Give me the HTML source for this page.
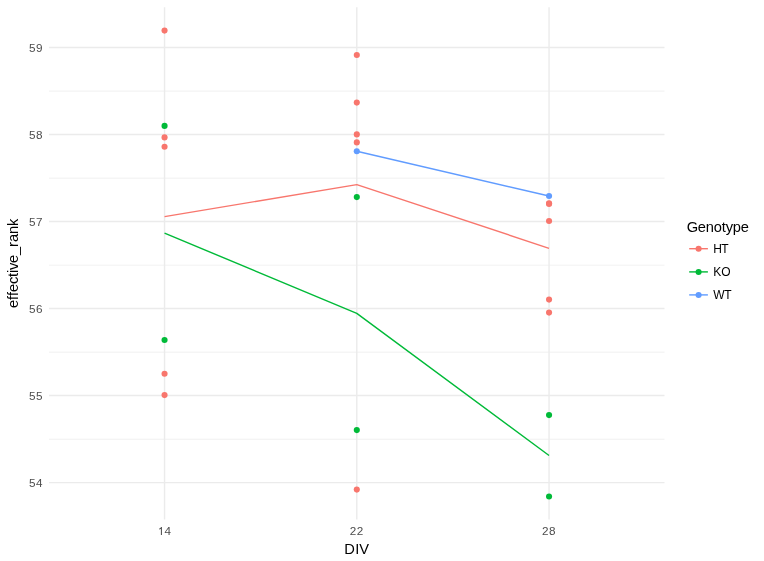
<!DOCTYPE html><html><head><meta charset="utf-8"><style>html,body{margin:0;padding:0;background:#fff;overflow:hidden;width:764px;height:561px;}svg{display:block;will-change:transform;}text{font-family:"Liberation Sans",sans-serif;}</style></head><body>
<svg width="764" height="561" viewBox="0 0 764 561">
<rect width="764" height="561" fill="#fff"/>
<line x1="49.0" x2="664.5" y1="91.12" y2="91.12" stroke="#EBEBEB" stroke-width="0.71"/>
<line x1="49.0" x2="664.5" y1="178.15" y2="178.15" stroke="#EBEBEB" stroke-width="0.71"/>
<line x1="49.0" x2="664.5" y1="265.17" y2="265.17" stroke="#EBEBEB" stroke-width="0.71"/>
<line x1="49.0" x2="664.5" y1="352.20" y2="352.20" stroke="#EBEBEB" stroke-width="0.71"/>
<line x1="49.0" x2="664.5" y1="439.23" y2="439.23" stroke="#EBEBEB" stroke-width="0.71"/>
<line x1="49.0" x2="664.5" y1="47.45" y2="47.45" stroke="#EBEBEB" stroke-width="1.42"/>
<line x1="49.0" x2="664.5" y1="134.48" y2="134.48" stroke="#EBEBEB" stroke-width="1.42"/>
<line x1="49.0" x2="664.5" y1="221.51" y2="221.51" stroke="#EBEBEB" stroke-width="1.42"/>
<line x1="49.0" x2="664.5" y1="308.54" y2="308.54" stroke="#EBEBEB" stroke-width="1.42"/>
<line x1="49.0" x2="664.5" y1="395.57" y2="395.57" stroke="#EBEBEB" stroke-width="1.42"/>
<line x1="49.0" x2="664.5" y1="482.60" y2="482.60" stroke="#EBEBEB" stroke-width="1.42"/>
<line x1="164.55" x2="164.55" y1="7.3" y2="519.4" stroke="#EBEBEB" stroke-width="1.42"/>
<line x1="356.8" x2="356.8" y1="7.3" y2="519.4" stroke="#EBEBEB" stroke-width="1.42"/>
<line x1="549.05" x2="549.05" y1="7.3" y2="519.4" stroke="#EBEBEB" stroke-width="1.42"/>
<polyline points="164.55,216.6 356.8,184.6 549.05,248.3" fill="none" stroke="#F8766D" stroke-width="1.42" stroke-linejoin="round"/>
<polyline points="164.55,233.1 356.8,313.4 549.05,455.5" fill="none" stroke="#00BA38" stroke-width="1.42" stroke-linejoin="round"/>
<polyline points="356.8,151.25 549.05,196.0" fill="none" stroke="#619CFF" stroke-width="1.42" stroke-linejoin="round"/>
<circle cx="164.55" cy="30.6" r="3.05" fill="#F8766D"/>
<circle cx="164.55" cy="125.9" r="3.05" fill="#00BA38"/>
<circle cx="164.55" cy="137.4" r="3.05" fill="#F8766D"/>
<circle cx="164.55" cy="146.7" r="3.05" fill="#F8766D"/>
<circle cx="164.55" cy="340.0" r="3.05" fill="#00BA38"/>
<circle cx="164.55" cy="373.7" r="3.05" fill="#F8766D"/>
<circle cx="164.55" cy="395.1" r="3.05" fill="#F8766D"/>
<circle cx="356.8" cy="55.0" r="3.05" fill="#F8766D"/>
<circle cx="356.8" cy="102.6" r="3.05" fill="#F8766D"/>
<circle cx="356.8" cy="134.4" r="3.05" fill="#F8766D"/>
<circle cx="356.8" cy="142.4" r="3.05" fill="#F8766D"/>
<circle cx="356.8" cy="151.25" r="3.05" fill="#619CFF"/>
<circle cx="356.8" cy="197.1" r="3.05" fill="#00BA38"/>
<circle cx="356.8" cy="430.1" r="3.05" fill="#00BA38"/>
<circle cx="356.8" cy="489.6" r="3.05" fill="#F8766D"/>
<circle cx="549.05" cy="196.0" r="3.05" fill="#619CFF"/>
<circle cx="549.05" cy="203.2" r="3.05" fill="#F8766D"/>
<circle cx="549.05" cy="203.9" r="3.05" fill="#F8766D"/>
<circle cx="549.05" cy="221.0" r="3.05" fill="#F8766D"/>
<circle cx="549.05" cy="299.6" r="3.05" fill="#F8766D"/>
<circle cx="549.05" cy="312.6" r="3.05" fill="#F8766D"/>
<circle cx="549.05" cy="415.1" r="3.05" fill="#00BA38"/>
<circle cx="549.05" cy="496.5" r="3.05" fill="#00BA38"/>
<text x="29.00 36.00" y="51.80" font-size="11.73" fill="#4D4D4D">59</text>
<text x="29.00 36.00" y="138.83" font-size="11.73" fill="#4D4D4D">58</text>
<text x="29.00 36.00" y="225.86" font-size="11.73" fill="#4D4D4D">57</text>
<text x="29.00 36.00" y="312.89" font-size="11.73" fill="#4D4D4D">56</text>
<text x="29.00 36.00" y="399.92" font-size="11.73" fill="#4D4D4D">55</text>
<text x="29.00 36.00" y="486.95" font-size="11.73" fill="#4D4D4D">54</text>
<path d="M763 0L583 0L583 1120Q480 1040 290 975L290 1150Q440 1220 525 1295Q600 1360 640 1409L763 1409Z" fill="#4D4D4D" transform="translate(157.55,535) scale(0.00573,-0.00568)"/>
<text x="164.55" y="534.60" font-size="11.73" fill="#4D4D4D">4</text>
<text x="349.80 356.80" y="534.60" font-size="11.73" fill="#4D4D4D">22</text>
<text x="542.05 549.05" y="534.60" font-size="11.73" fill="#4D4D4D">28</text>
<text x="344.20 355.20 359.20" y="553.90" font-size="14.67" fill="#000">DIV</text>
<text transform="translate(17.8,263.6) rotate(-90)" x="-44.50 -36.50 -32.50 -28.50 -20.50 -13.50 -9.50 -6.50 0.50 8.50 16.50 21.50 29.50 37.50" y="0" font-size="14.67" fill="#000">effective_rank</text>
<text x="686.80 697.80 705.80 713.80 721.80 725.80 732.80 740.80" y="231.70" font-size="14.67" fill="#000">Genotype</text>
<line x1="689.2" x2="707.9" y1="248.7" y2="248.7" stroke="#F8766D" stroke-width="1.42"/>
<circle cx="698.6" cy="248.79999999999998" r="3.05" fill="#F8766D"/>
<text x="713.20 721.20" y="252.85" font-size="12.0" fill="#000">HT</text>
<line x1="689.2" x2="707.9" y1="271.9" y2="271.9" stroke="#00BA38" stroke-width="1.42"/>
<circle cx="698.6" cy="272.0" r="3.05" fill="#00BA38"/>
<text x="713.20 721.20" y="276.05" font-size="12.0" fill="#000">KO</text>
<line x1="689.2" x2="707.9" y1="294.9" y2="294.9" stroke="#619CFF" stroke-width="1.42"/>
<circle cx="698.6" cy="295.0" r="3.05" fill="#619CFF"/>
<text x="713.20 724.20" y="299.05" font-size="12.0" fill="#000">WT</text>
</svg></body></html>
